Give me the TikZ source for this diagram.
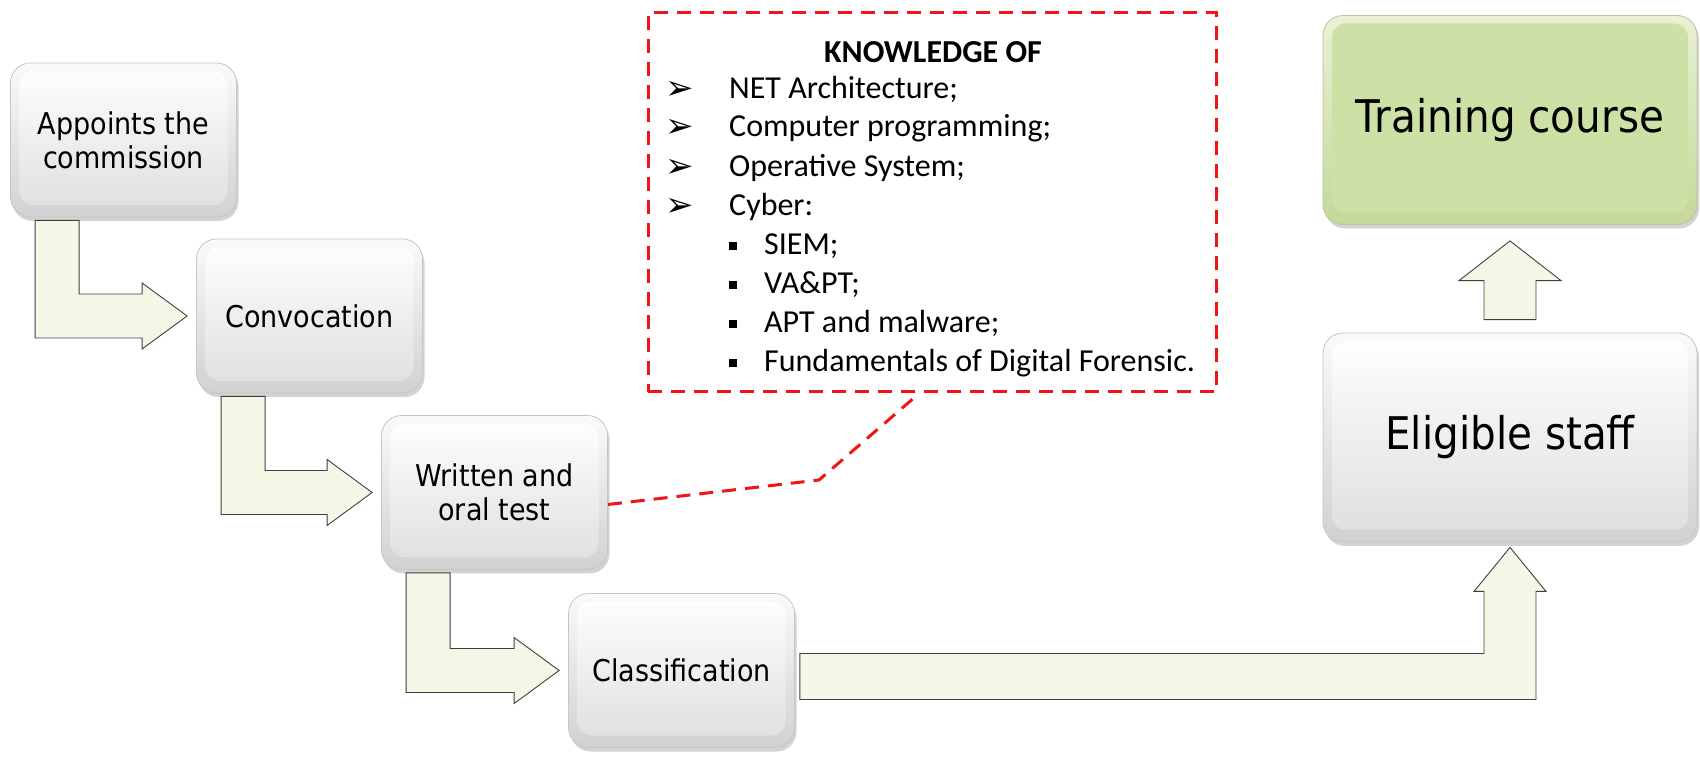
\documentclass[tikz,border=0pt]{standalone}
\usepackage{fontspec}
\usetikzlibrary{calc,shadows}
\newfontfamily\boxfont[FakeStretch=0.9]{DejaVu Sans}
\newfontfamily\calfont{Carlito}
\newfontfamily\symfont{DejaVu Sans}
\definecolor{arrowfill}{RGB}{242,247,230}
\definecolor{arrowline}{RGB}{64,64,64}
\definecolor{grnA}{RGB}{218,232,186}
\definecolor{grnB}{RGB}{196,216,152}
\definecolor{grnC}{RGB}{205,224,165}
\definecolor{kred}{RGB}{240,20,20}
\tikzset{
  glossy/.style={rounded corners=20pt, minimum width=226pt, minimum height=154pt,
    draw=gray!45, line width=0.8pt, top color=gray!4, bottom color=gray!36,
    drop shadow={shadow xshift=2pt, shadow yshift=-4pt, opacity=0.35},
    path picture={\shade[top color=white, bottom color=gray!26, rounded corners=14pt]
      ($(path picture bounding box.south west)+(9,12)$) rectangle
      ($(path picture bounding box.north east)+(-9,-8)$);},
    font=\boxfont\fontsize{30}{34}\selectfont, align=center, text=black},
  bigbox/.style={glossy, minimum width=374pt, minimum height=209pt,
    font=\boxfont\fontsize{45}{50}\selectfont},
  greenbox/.style={bigbox, draw=grnB!80!black!70, top color=grnA!60!white, bottom color=grnB,
    path picture={\fill[grnC, rounded corners=14pt]
      ($(path picture bounding box.south west)+(9,12)$) rectangle
      ($(path picture bounding box.north east)+(-9,-8)$);}},
  arrowshape/.style={fill=arrowfill, draw=arrowline, line width=0.9pt, line join=miter},
  kbox/.style={draw=kred, line width=3pt, dash pattern=on 14pt off 9pt,
    minimum width=568pt, minimum height=379pt},
  reddash/.style={draw=kred, line width=3pt, dash pattern=on 14pt off 9pt},
  ktext/.style={font=\calfont\fontsize{32}{36}\selectfont, inner sep=0pt, anchor=west,
    text height=22pt, text depth=7pt},
  karrow/.style={font=\symfont\fontsize{34}{38}\selectfont, inner sep=0pt},
  ksq/.style={fill=black, minimum size=8pt, inner sep=0pt},
}
\newcommand\bentarrow[2]{%
  \draw[arrowshape] let \p1=(#1.south west), \p2=(#2.west) in
   (\x1+25pt,\y1-3pt) -- (\x1+69pt,\y1-3pt) -- (\x1+69pt,\y2+22pt) --
   (\x2-54pt,\y2+22pt) -- (\x2-54pt,\y2+33pt) -- (\x2-9pt,\y2) --
   (\x2-54pt,\y2-33pt) -- (\x2-54pt,\y2-22pt) -- (\x1+25pt,\y2-22pt) -- cycle;}
\begin{document}
\begin{tikzpicture}[x=1pt,y=1pt]
\useasboundingbox (0,0) rectangle (1700,758);
% process boxes
\node[glossy] (b1) at (123.5,618) {Appoints the\\commission};
\node[glossy] (b2) at (309.5,442) {Convocation};
\node[glossy] (b3) at (494.5,265.5) {Written and\\oral test};
\node[glossy] (b4) at (681.5,87.5) {Classification};
\node[bigbox] (es) at (1510,320.5) {Eligible staff};
\node[greenbox] (tc) at (1510,638) {Training course};
% bent arrows
\bentarrow{b1}{b2}
\bentarrow{b2}{b3}
\bentarrow{b3}{b4}
% long arrow from classification to eligible staff
\draw[arrowshape] let \p1=(b4.east), \p2=(es.south) in
  (\x1+5pt,\y1+17pt) -- (\x2-26pt,\y1+17pt) -- (\x2-26pt,\y2-49pt) --
  (\x2-36pt,\y2-49pt) -- (\x2,\y2-5pt) -- (\x2+36pt,\y2-49pt) --
  (\x2+26pt,\y2-49pt) -- (\x2+26pt,\y1-29pt) -- (\x1+5pt,\y1-29pt) -- cycle;
% up arrow eligible -> training
\draw[arrowshape] let \p1=(es.north), \p2=(tc.south) in
  (\x1-26pt,\y1+13pt) -- (\x1-26pt,\y1+52pt) -- (\x1-51pt,\y1+52pt) --
  (\x1,\y2-16pt) -- (\x1+51pt,\y1+52pt) -- (\x1+26pt,\y1+52pt) --
  (\x1+26pt,\y1+13pt) -- cycle;
% knowledge box
\node[kbox] (kb) at (932,555.5) {};
\node[font=\calfont\bfseries\fontsize{32}{36}\selectfont, inner sep=0pt] (kt) at (933,706) {KNOWLEDGE OF};
\node[karrow] (a1) at (680,668) {➢};
\node[ktext] (k1) at (729,667) {NET Architecture;};
\node[karrow] (a2) at (680,630) {➢};
\node[ktext] (k2) at (729,629) {Computer programming;};
\node[karrow] (a3) at (680,590) {➢};
\node[ktext] (k3) at (729,589) {Operative System;};
\node[karrow] (a4) at (680,551) {➢};
\node[ktext] (k4) at (729,550) {Cyber:};
\node[ksq] (s1) at (733,512) {};
\node[ktext] (k5) at (764,511) {SIEM;};
\node[ksq] (s2) at (733,473) {};
\node[ktext] (k6) at (764,472) {VA\&PT;};
\node[ksq] (s3) at (733,434) {};
\node[ktext] (k7) at (764,433) {APT and malware;};
\node[ksq] (s4) at (733,395) {};
\node[ktext] (k8) at (764,394) {Fundamentals of Digital Forensic.};
% dashed connector
\coordinate (cnr) at (819,278);
\draw[reddash] ($(b3.east)+(0,-12)$) -- (cnr) -- ($(kb.south)+(-13,0)$);
\end{tikzpicture}
\end{document}
